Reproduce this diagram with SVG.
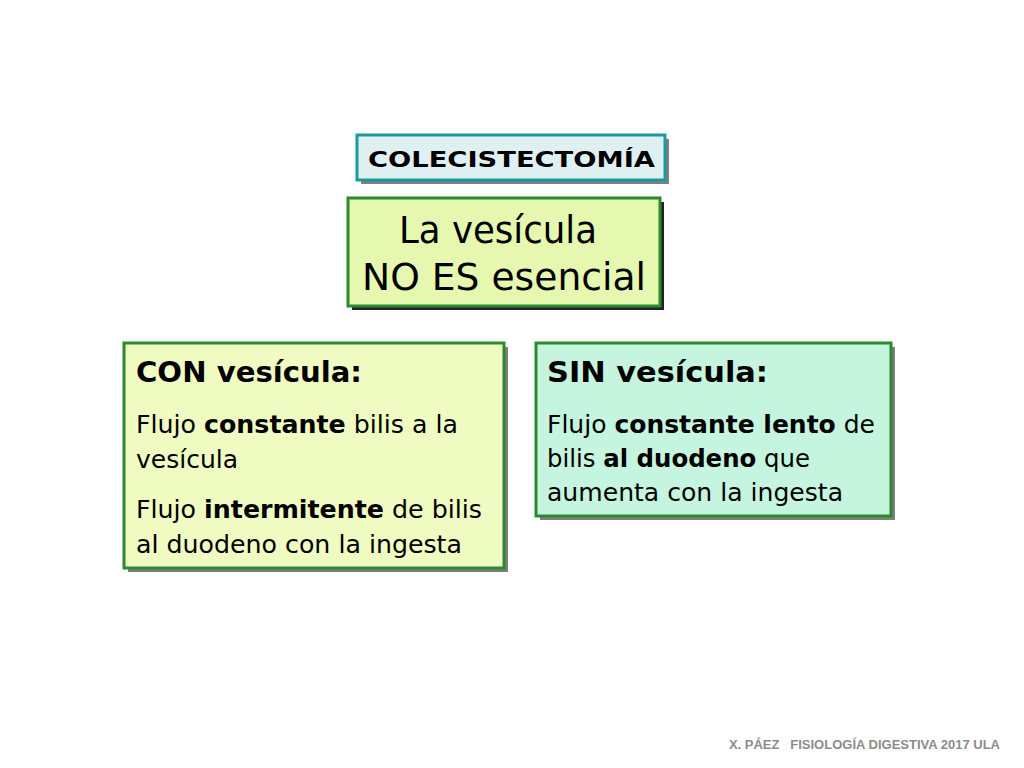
<svg xmlns="http://www.w3.org/2000/svg" width="1024" height="768" viewBox="0 0 1024 768">
<style>
text{font-family:"DejaVu Sans","Noto Sans",sans-serif;fill:#000}
.b{font-weight:bold}
.shadow{fill:#7f7f7f}
.g{stroke:#2b8a2b;stroke-width:3}
.body{font-size:25px}
.head{font-size:29px;font-weight:bold}
</style>
<rect width="1024" height="768" fill="#fff"/>
<g id="connectors"/>
<g id="n-colecistectomia">
<rect class="shadow" x="361" y="139" width="308" height="45"/>
<rect x="357" y="135" width="308" height="45" fill="#dff0f2" stroke="#1c9a9e" stroke-width="3"/>
<text x="368" y="167" font-size="22" class="b" textLength="287" lengthAdjust="spacingAndGlyphs">COLECISTECTOMÍA</text>
</g>
<g id="n-vesicula">
<rect x="352" y="202" width="312" height="108" fill="#222"/>
<rect x="348" y="198" width="312" height="108" fill="#e6f7b0" class="g"/>
<text x="399" y="243" font-size="37" textLength="198" lengthAdjust="spacingAndGlyphs">La vesícula</text>
<text x="362" y="290" font-size="37" textLength="284" lengthAdjust="spacingAndGlyphs">NO ES esencial</text>
</g>
<g id="n-con">
<rect class="shadow" x="128" y="347" width="380" height="225"/>
<rect x="124" y="343" width="380" height="225" fill="#f0fbc2" class="g"/>
<text x="136" y="382" class="head" textLength="226" lengthAdjust="spacingAndGlyphs">CON vesícula:</text>
<text x="136" y="433" class="body" textLength="322" lengthAdjust="spacingAndGlyphs">Flujo <tspan class="b">constante</tspan> bilis a la</text>
<text x="136" y="468" class="body" textLength="102" lengthAdjust="spacingAndGlyphs">vesícula</text>
<text x="136" y="518" class="body" textLength="346" lengthAdjust="spacingAndGlyphs">Flujo <tspan class="b">intermitente</tspan> de bilis</text>
<text x="136" y="553" class="body" textLength="326" lengthAdjust="spacingAndGlyphs">al duodeno con la ingesta</text>
</g>
<g id="n-sin">
<rect class="shadow" x="540" y="347" width="355" height="173"/>
<rect x="536" y="343" width="355" height="173" fill="#c6f5df" class="g"/>
<text x="547" y="382" class="head" textLength="221" lengthAdjust="spacingAndGlyphs">SIN vesícula:</text>
<text x="547" y="433" class="body" textLength="328" lengthAdjust="spacingAndGlyphs">Flujo <tspan class="b">constante lento</tspan> de</text>
<text x="547" y="467" class="body" textLength="263" lengthAdjust="spacingAndGlyphs">bilis <tspan class="b">al duodeno</tspan> que</text>
<text x="547" y="501" class="body" textLength="296" lengthAdjust="spacingAndGlyphs">aumenta con la ingesta</text>
</g>
<text x="1000" y="749" text-anchor="end" font-size="13" font-weight="bold" style="font-family:'Liberation Sans',Arial,sans-serif;fill:#8c8c8c" xml:space="preserve">X. PÁEZ   FISIOLOGÍA DIGESTIVA 2017 ULA</text>
</svg>
